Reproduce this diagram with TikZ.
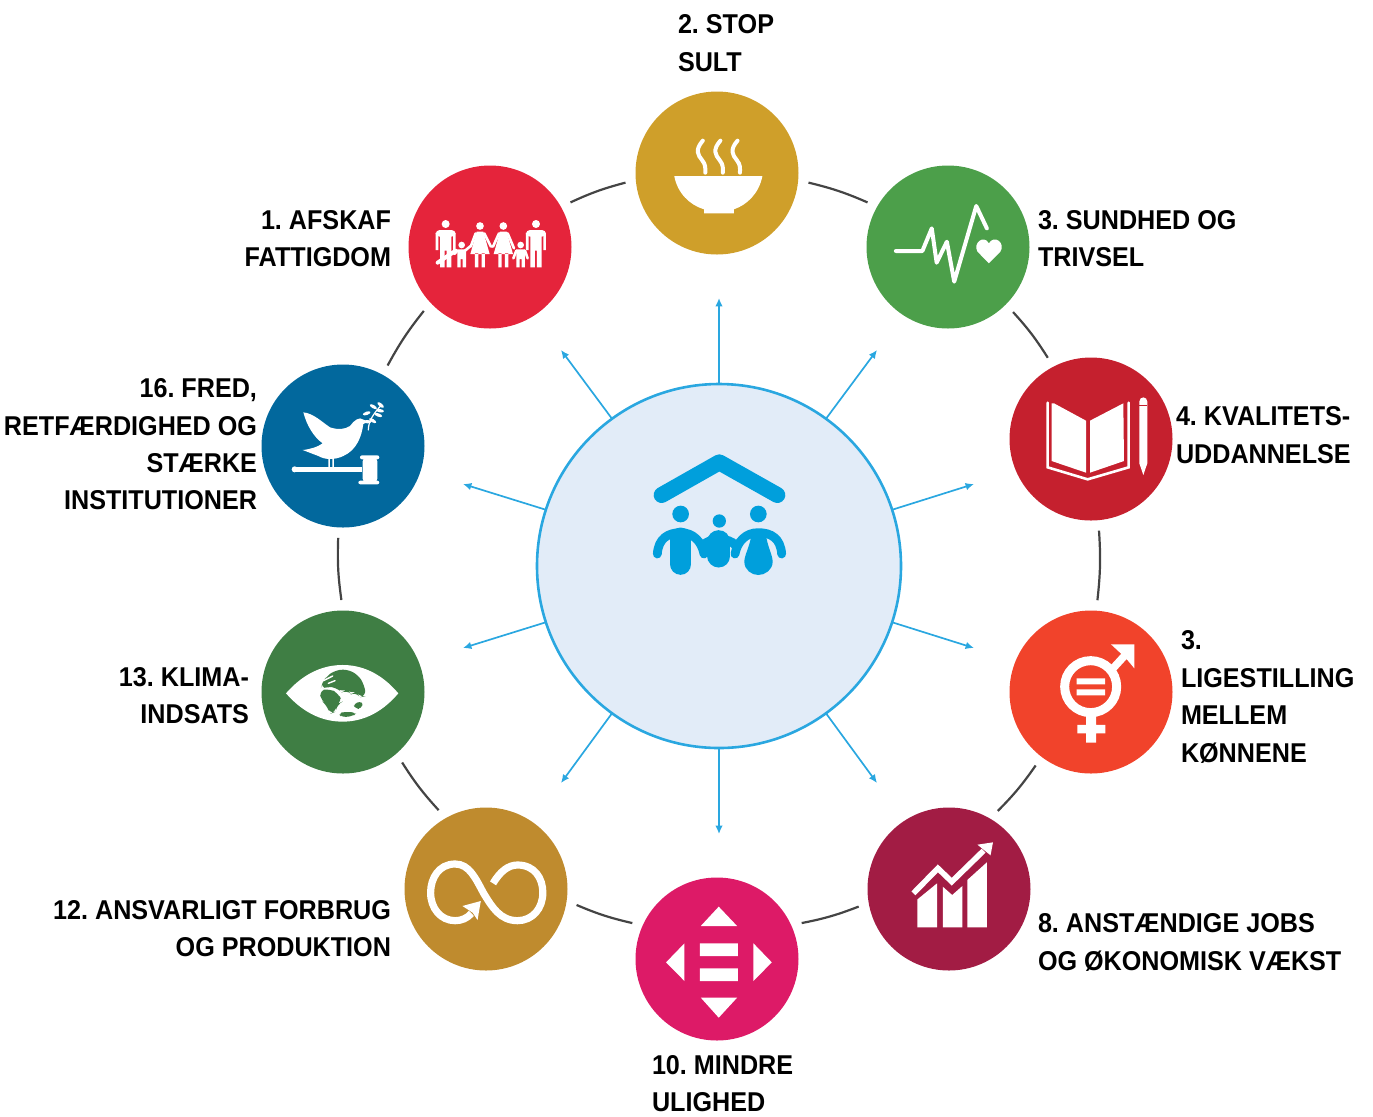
\documentclass[tikz,border=0pt]{standalone}
\usepackage{fontspec}
\setmainfont{Liberation Sans}[FakeStretch=0.925]
\usetikzlibrary{arrows.meta}
\definecolor{sdgone}{HTML}{E5243B}
\definecolor{sdgtwo}{HTML}{CF9F2A}
\definecolor{sdgthree}{HTML}{4C9F4A}
\definecolor{sdgfour}{HTML}{C5202E}
\definecolor{sdgfive}{HTML}{F1432B}
\definecolor{sdgeight}{HTML}{A21C44}
\definecolor{sdgten}{HTML}{DD1A67}
\definecolor{sdgtwelve}{HTML}{BF8B2E}
\definecolor{sdgthirteen}{HTML}{3F7E44}
\definecolor{sdgsixteen}{HTML}{02689D}
\definecolor{hubfill}{HTML}{E2ECF8}
\definecolor{hubline}{HTML}{2AA7E0}
\definecolor{hubicon}{HTML}{009FDC}
\definecolor{connline}{HTML}{444444}
\tikzset{
  goal/.style={circle,fill=#1,draw=none,minimum size=163*0.5pt,inner sep=0pt,outer sep=5.25pt},
  hub/.style={circle,fill=hubfill,draw=hubline,line width=1.3pt,minimum size=364*0.5pt,inner sep=0pt,outer sep=0pt},
  conn/.style={draw=connline,line width=1.1pt,bend left=5},
  spoke/.style={draw=hubline,line width=0.85pt,-{Latex[length=4.2pt,width=3.8pt]}},
  lab/.style={inner sep=0pt,outer sep=0pt,font=\fontsize{13.6}{18.7}\selectfont\bfseries\frenchspacing,text=black},
  labl/.style={lab,anchor=west,align=left},
  labr/.style={lab,anchor=east,align=right},
  wl/.style={draw=white,line cap=round,line join=round}
}
\newcommand{\manfig}[1]{%
  \fill[white] (#1,42) circle (12);
  \fill[white,rounded corners=2pt] (#1-30,60) rectangle (#1+30,80);
  \fill[white] (#1-30,70) rectangle (#1-22,120) (#1+22,70) rectangle (#1+30,120)
     (#1-17,70) rectangle (#1+17,122) (#1-17,120) rectangle (#1-3,172) (#1+3,120) rectangle (#1+17,172);}
\newcommand{\womanfig}[1]{%
  \fill[white] (#1,48) circle (11.5);
  \fill[white] (#1-10,65) -- (#1+10,65) -- (#1+29,132) -- (#1-29,132) -- cycle
     (#1-15,130) rectangle (#1-5,172) (#1+5,130) rectangle (#1+15,172);}
\newcommand{\childfig}[1]{%
  \fill[white] (#1,105) circle (10);
  \fill[white] (#1-13,118) rectangle (#1+13,147) (#1-13,145) rectangle (#1-3,172) (#1+3,145) rectangle (#1+13,172);}
\begin{document}
\begin{tikzpicture}[x=0.5pt,y=-0.5pt]
\useasboundingbox (0,0) rectangle (1373,1116);

% hub
\node[hub] (hub) at (719,566) {};
% goals
\node[goal=sdgone] (g1) at (490,247) {};
\node[goal=sdgtwo] (g2) at (717,173) {};
\node[goal=sdgthree] (g3) at (948,247) {};
\node[goal=sdgfour] (g4) at (1091,439) {};
\node[goal=sdgfive] (g5) at (1091,692) {};
\node[goal=sdgeight] (g8) at (949,889) {};
\node[goal=sdgten] (g10) at (717,959) {};
\node[goal=sdgtwelve] (g12) at (486,889) {};
\node[goal=sdgthirteen] (g13) at (343,692) {};
\node[goal=sdgsixteen] (g16) at (343,446) {};

% ring connectors
\draw[conn] (g1.29) to (g2.186);
\draw[conn] (g2.354) to (g3.151);
\draw[conn] (g3.315) to (g4.118);
\draw[conn] (g4.275) to (g5.86);
\draw[conn] (g5.233) to (g8.58);
\draw[conn] (g8.191) to (g10.23);
\draw[conn] (g10.157) to (g12.350);
\draw[conn] (g12.121) to (g13.310);
\draw[conn] (g13.91) to (g16.267);
\draw[conn] (g16.61) to (g1.224);

% spokes
\coordinate (s1) at (719,298);
\coordinate (s2) at (877,350);
\coordinate (s3) at (974,484);
\coordinate (s4) at (974,648);
\coordinate (s5) at (877,783);
\coordinate (s6) at (719,834);
\coordinate (s7) at (561,783);
\coordinate (s8) at (463,648);
\coordinate (s9) at (463,484);
\coordinate (s10) at (561,350);
\draw[spoke] (hub.90) -- (s1);
\draw[spoke] (hub.54) -- (s2);
\draw[spoke] (hub.18) -- (s3);
\draw[spoke] (hub.-18) -- (s4);
\draw[spoke] (hub.-54) -- (s5);
\draw[spoke] (hub.-90) -- (s6);
\draw[spoke] (hub.-126) -- (s7);
\draw[spoke] (hub.-162) -- (s8);
\draw[spoke] (hub.162) -- (s9);
\draw[spoke] (hub.126) -- (s10);

% hub icon
\begin{scope}[shift={(620,430)},x=0.5pt/3,y=-0.5pt/3]
  \draw[hubicon,line width=8pt,line cap=round,line join=round] (125,195) -- (298,97) -- (472,195);
  \fill[hubicon] (182,252) circle (25) (415,252) circle (25) (298,273) circle (20);
  \draw[hubicon,line width=4.4pt,line cap=round] (112,372) .. controls (115,325) and (145,308) .. (182,308) .. controls (220,308) and (245,335) .. (252,372);
  \draw[hubicon,line width=4.4pt,line cap=round] (345,372) .. controls (352,335) and (377,308) .. (415,308) .. controls (453,308) and (482,325) .. (485,372);
  \draw[hubicon,line width=4.4pt,line cap=round] (252,345) .. controls (265,322) and (330,322) .. (345,345);
  \draw[hubicon,line width=10.8pt,line cap=round] (182,325) -- (182,402);
  \draw[hubicon,line width=11.5pt,line cap=round] (297,335) -- (297,378);
  \fill[hubicon] (395,310) .. controls (390,350) and (373,375) .. (373,395) .. controls (373,420) and (395,435) .. (415,435) .. controls (435,435) and (458,420) .. (458,395) .. controls (458,375) and (442,350) .. (437,310) -- cycle;
\end{scope}

% icon 2: bowl and icon 3: heartbeat
\begin{scope}[shift={(400,80)},x=0.5pt/2.45,y=-0.5pt/3]
  \fill[white] (672,288) -- (888,288) .. controls (880,340) and (850,375) .. (818,388) -- (818,400) -- (745,400) -- (745,388) .. controls (710,375) and (680,340) .. (672,288) -- cycle;
  \foreach \dx in {0,43,85}{
    \draw[wl,line width=2pt,xshift=\dx*0.5pt/2.45] (742,182) .. controls (722,210) and (730,225) .. (740,240) .. controls (750,255) and (748,265) .. (748,278);
  }
  \draw[wl,line width=2pt] (1215,513) -- (1280,513) -- (1303,445) -- (1315,548) -- (1340,485) -- (1358,605) -- (1412,378) -- (1438,445);
  \fill[white] (1443,550) -- (1415,515) .. controls (1403,490) and (1430,462) .. (1443,490) .. controls (1456,462) and (1485,490) .. (1471,515) -- cycle;
\end{scope}

% icon 1: family
\begin{scope}[shift={(425,210)},x=0.5pt/3,y=-0.5pt/3]
  \manfig{62}\manfig{333}\womanfig{165}\womanfig{235}\childfig{110}\childfig{287}
  \draw[wl,line width=1.3pt] (120,122) -- (137,108) (97,122) -- (88,132)
     (152,70) -- (137,110) (178,70) -- (198,110)
     (222,70) -- (204,110) (248,70) -- (267,115)
     (274,122) -- (265,145) (300,122) -- (308,145);
  \draw[wl,line width=2pt] (38,158) -- (92,122);
\end{scope}

% icon 16: dove and gavel
\begin{scope}[shift={(250,350)},x=0.5pt/3,y=-0.5pt/3]
  \fill[white] (160,187) .. controls (190,190) and (215,215) .. (240,232) .. controls (265,240) and (285,238) .. (300,228) .. controls (312,210) and (330,200) .. (338,208) -- (355,215) -- (340,222) .. controls (335,260) and (320,300) .. (280,318) .. controls (255,330) and (225,330) .. (205,318) -- (158,300) .. controls (180,298) and (205,290) .. (218,280) .. controls (190,260) and (170,225) .. (160,187) -- cycle;
  \fill[white] (235,325) rectangle (240,352) (247,325) rectangle (252,352);
  \fill[white] (134,350) rectangle (335,366);
  \fill[white] (134,358) circle (9);
  \fill[white,rounded corners=1pt] (330,316) rectangle (388,328) (338,328) rectangle (382,392) (325,392) rectangle (388,403);
  \draw[wl,line width=0.6pt] (355,240) .. controls (355,215) and (370,190) .. (395,165);
  \foreach \a/\b/\r in {350/190/20,352/215/0,370/170/-30,392/165/-40,385/195/-20,368/212/-30,390/182/-10}{
    \fill[white,rotate around={\r:(\a,\b)}] (\a,\b) ellipse (12 and 5);
  }
  % icon 13: eye
  \fill[white] (108,1030) .. controls (165,965) and (225,945) .. (278,945) .. controls (330,945) and (390,965) .. (445,1030) .. controls (390,1095) and (330,1115) .. (278,1115) .. controls (225,1115) and (165,1095) .. (108,1030) -- cycle;
\end{scope}
\begin{scope}[shift={(310,660)},x=0.5pt/3,y=-0.5pt/3]
  \fill[sdgthirteen,rounded corners=3pt] (47,52) -- (72,32) -- (110,27) -- (145,45) -- (163,75) -- (168,108) -- (150,112) -- (137,95) -- (125,102) -- (110,90) -- (95,97) -- (78,82) -- (55,80) -- (32,86) -- (38,68) -- cycle;
  \fill[sdgthirteen,rounded corners=3pt] (28,92) -- (58,86) -- (85,100) -- (97,125) -- (82,132) -- (77,155) -- (60,162) -- (50,135) -- (34,122) -- cycle;
  \fill[sdgthirteen,rounded corners=2pt] (130,130) -- (160,124) -- (155,146) -- (135,147) -- cycle;
  \fill[sdgthirteen,rounded corners=2pt] (85,160) -- (105,155) -- (140,158) -- (130,168) -- (95,172) -- cycle;
  \draw[white,line width=0.7pt,line cap=round] (40,62) -- (68,48) (55,70) -- (75,62);
\end{scope}

% icon 4: book and pencil; icon 5: gender
\begin{scope}[shift={(1000,350)},x=0.5pt/3,y=-0.5pt/3]
  \fill[white] (162,160) -- (258,212) -- (258,368) -- (155,333) -- (155,160) -- cycle;
  \fill[white] (270,212) -- (370,160) -- (372,333) -- (270,368) -- cycle;
  \draw[wl,line width=1.3pt,line join=miter] (143,158) -- (143,352) -- (263,388) -- (386,352) -- (386,158);
  \fill[white] (418,155) .. controls (418,138) and (442,138) .. (442,155) -- (442,340) -- (430,375) -- (418,340) -- cycle;
  \fill[sdgfour] (418,165) rectangle (442,169);
  \draw[draw=white,line width=4.5pt] (272,1010) circle (78);
  \fill[white] (230,985) rectangle (315,1003) (230,1018) rectangle (315,1036);
  \fill[white] (258,1095) rectangle (288,1178) (232,1125) rectangle (316,1150);
  \draw[draw=white,line width=3.8pt] (330,965) -- (385,905);
  \fill[white] (333,883) -- (403,883) -- (403,955) -- (378,925) -- (360,908) -- cycle;
\end{scope}

% bottom icons
\begin{scope}[shift={(400,800)},x=0.5pt/2.45,y=-0.5pt/3]
  % infinity
  \draw[draw=white,line width=3.6pt] (228,250) .. controls (245,215) and (265,195) .. (288,195) .. controls (330,195) and (350,235) .. (350,278) .. controls (350,325) and (325,362) .. (288,362) .. controls (245,362) and (225,320) .. (205,280) .. controls (185,235) and (170,192) .. (135,192) .. controls (95,192) and (75,235) .. (75,278) .. controls (75,325) and (100,362) .. (135,362) .. controls (150,362) and (165,355) .. (175,340);
  \fill[white] (153,318) -- (198,303) -- (190,360) -- (178,338) -- cycle;
  % equality
  \fill[white] (781,320) -- (826,378) -- (737,378) -- cycle;
  \fill[white] (735,430) rectangle (828,468) (735,505) rectangle (828,543);
  \fill[white] (737,593) -- (826,593) -- (781,653) -- cycle;
  \fill[white] (697,430) -- (652,487) -- (697,543) -- cycle;
  \fill[white] (866,430) -- (911,487) -- (866,543) -- cycle;
  % growth
  \fill[white] (1268,298) -- (1316,250) -- (1316,382) -- (1268,382) -- cycle;
  \fill[white] (1330,260) -- (1353,285) -- (1378,258) -- (1378,382) -- (1330,382) -- cycle;
  \fill[white] (1390,240) -- (1438,187) -- (1438,382) -- (1390,382) -- cycle;
  \draw[draw=white,line width=2.8pt,line join=miter] (1258,280) -- (1318,205) -- (1352,245) -- (1430,152);
  \fill[white] (1415,134) -- (1453,127) -- (1447,166) -- cycle;
\end{scope}

% labels
\node[labl] (t2) at (678,43) {2. STOP\\SULT};
\node[labl] (t3) at (1038,238.5) {3. SUNDHED OG\\TRIVSEL};
\node[labr] (t1) at (391,238.5) {1. AFSKAF\\FATTIGDOM};
\node[labl] (t4) at (1176,435) {4. KVALITETS-\\UDDANNELSE};
\node[labr] (t16) at (257,444.5) {16. FRED,\\RETFÆRDIGHED OG\\STÆRKE\\INSTITUTIONER};
\node[labr] (t13) at (249,695.5) {13. KLIMA-\\INDSATS};
\node[labl] (t5) at (1181,697) {3.\\LIGESTILLING\\MELLEM\\KØNNENE};
\node[labl] (t8) at (1038,942.5) {8. ANSTÆNDIGE JOBS\\OG ØKONOMISK VÆKST};
\node[labr] (t12) at (391,928.5) {12. ANSVARLIGT FORBRUG\\OG PRODUKTION};
\node[labl] (t10) at (652,1083.5) {10. MINDRE\\ULIGHED};
\end{tikzpicture}
\end{document}
